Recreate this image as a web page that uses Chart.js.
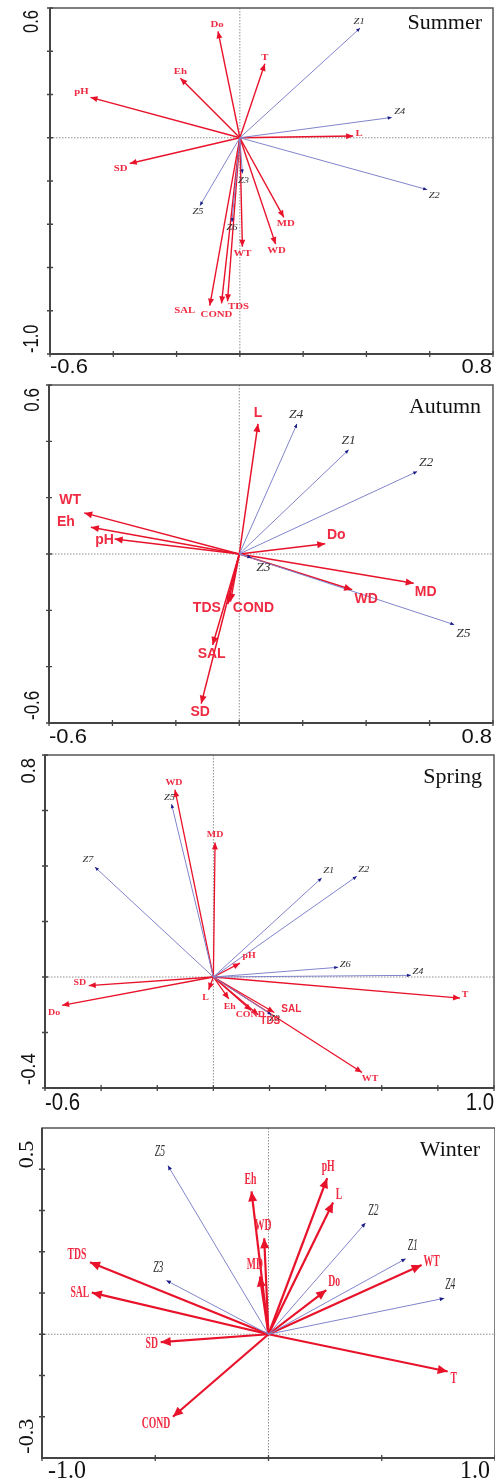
<!DOCTYPE html>
<html>
<head>
<meta charset="utf-8">
<script src="https://cdn.jsdelivr.net/npm/chart.js@4.4.1/dist/chart.umd.min.js"></script>
<style>
  html, body { margin: 0; padding: 0; background: #fff; }
  body { width: 495px; height: 1481px; position: relative; overflow: hidden; }
  .panel { position: absolute; left: 0; width: 495px; }
</style>
</head>
<body>
<div class="panel" style="top:0;height:376px"><canvas id="summer"></canvas></div>
<div class="panel" style="top:376px;height:370px"><canvas id="autumn"></canvas></div>
<div class="panel" style="top:746px;height:368px"><canvas id="spring"></canvas></div>
<div class="panel" style="top:1114px;height:367px"><canvas id="winter"></canvas></div>
<script>
// ---- Summer
const summerEnvNames  = ["Do", "T", "Eh", "pH", "SD", "L", "MD", "WD", "WT", "SAL", "COND", "TDS"];
const summerEnvX      = [-0.069, 0.079, -0.188, -0.472, -0.348, 0.358, 0.139, 0.113, 0.008, -0.095, -0.058, -0.039];
const summerEnvY      = [0.492, 0.342, 0.275, 0.187, -0.119, 0.008, -0.368, -0.492, -0.504, -0.776, -0.766, -0.756];
const summerZoneNames = ["Z1", "Z4", "Z2", "Z5", "Z3", "Z6"];
const summerZoneX     = [0.380, 0.480, 0.592, -0.126, 0.008, -0.025];
const summerZoneY     = [0.507, 0.094, -0.240, -0.314, -0.165, -0.390];
const summerXTicks    = [-0.6, -0.4, -0.2, 0, 0.2, 0.4, 0.6, 0.8];
const summerYTicks    = [-1.0, -0.8, -0.6, -0.4, -0.2, 0, 0.2, 0.4, 0.6];
const summerXLabels   = ["-0.6", "0.8"];
const summerYLabels   = ["-1.0", "0.6"];

// ---- Autumn
const autumnEnvNames  = ["L", "WT", "Eh", "pH", "Do", "MD", "WD", "TDS", "COND", "SAL", "SD"];
const autumnEnvX      = [0.059, -0.489, -0.468, -0.393, 0.271, 0.550, 0.356, -0.036, -0.028, -0.084, -0.120];
const autumnEnvY      = [0.462, 0.146, 0.095, 0.053, 0.036, -0.104, -0.127, -0.178, -0.169, -0.323, -0.531];
const autumnZoneNames = ["Z4", "Z1", "Z2", "Z5", "Z3"];
const autumnZoneX     = [0.182, 0.345, 0.561, 0.678, 0.038];
const autumnZoneY     = [0.462, 0.370, 0.293, -0.251, -0.013];
const autumnXTicks    = [-0.6, -0.4, -0.2, 0, 0.2, 0.4, 0.6, 0.8];
const autumnYTicks    = [-0.6, -0.4, -0.2, 0, 0.2, 0.4, 0.6];
const autumnXLabels   = ["-0.6", "0.8"];
const autumnYLabels   = ["-0.6", "0.6"];

// ---- Spring
const springEnvNames  = ["WD", "MD", "pH", "T", "SD", "Do", "L", "Eh", "COND", "TDS", "SAL", "WT"];
const springEnvX      = [-0.137, 0.006, 0.095, 0.879, -0.444, -0.539, -0.017, 0.055, 0.135, 0.160, 0.217, 0.530];
const springEnvY      = [0.675, 0.485, 0.050, -0.076, -0.031, -0.102, -0.046, -0.079, -0.121, -0.136, -0.128, -0.344];
const springZoneNames = ["Z5", "Z7", "Z1", "Z2", "Z6", "Z4", "Z3"];
const springZoneX     = [-0.149, -0.422, 0.386, 0.511, 0.445, 0.704, 0.207];
const springZoneY     = [0.623, 0.396, 0.357, 0.363, 0.035, 0.006, -0.136];
const springXTicks    = [-0.6, -0.4, -0.2, 0, 0.2, 0.4, 0.6, 0.8, 1.0];
const springYTicks    = [-0.4, -0.2, 0, 0.2, 0.4, 0.6, 0.8];
const springXLabels   = ["-0.6", "1.0"];
const springYLabels   = ["-0.4", "0.8"];

// ---- Winter
const winterEnvNames  = ["Eh", "pH", "L", "WD", "MD", "WT", "Do", "TDS", "SAL", "SD", "T", "COND"];
const winterEnvX      = [-0.075, 0.259, 0.285, -0.019, -0.038, 0.676, 0.255, -0.788, -0.780, -0.476, 0.791, -0.422];
const winterEnvY      = [0.433, 0.473, 0.399, 0.291, 0.175, 0.210, 0.134, 0.218, 0.126, -0.024, -0.113, -0.250];
const winterZoneNames = ["Z5", "Z2", "Z1", "Z4", "Z3"];
const winterZoneX     = [-0.444, 0.428, 0.606, 0.776, -0.451];
const winterZoneY     = [0.511, 0.337, 0.229, 0.109, 0.163];
const winterXTicks    = [-1.0, -0.5, 0, 0.5, 1.0];
const winterYTicks    = [-0.25, -0.125, 0, 0.125, 0.25, 0.375, 0.5];
const winterXLabels   = ["-1.0", "1.0"];
const winterYLabels   = ["-0.3", "0.5"];

const RED        = "#e8132b";
const RED_TEXT   = "#ee2b42";
const BLUE_LINE  = "#8184ca";
const BLUE_HEAD  = "#1a1d86";
const ZONE_TEXT  = "#333";
const SANS  = '"Liberation Sans", Arial, sans-serif';
const SERIF = '"Liberation Serif", "Times New Roman", serif';

const PANELS = [
  {
    id: "summer", title: "Summer", x: [-0.6, 0.8], y: [-1.0, 0.6],
    env: [summerEnvNames, summerEnvX, summerEnvY], zone: [summerZoneNames, summerZoneX, summerZoneY],
    xTicks: summerXTicks, yTicks: summerYTicks, xLabels: summerXLabels, yLabels: summerYLabels,
    style: {
      pad: { left: 50, top: 8, right: 2, bottom: 22 },
      redWidth: 1.4, headLen: 7, headHalf: 3, bHeadLen: 4, bHeadHalf: 1.7,
      envFont: `bold 8px ${SERIF}`, envSx: 1.35, sansNames: [], sansFont: "",
      zoneFont: `italic 8px ${SERIF}`, zoneSx: 1.3,
      title: { dx: -11, dy: 21 },
      xFont: `20px ${SANS}`, xDy: 19, xSx: 1.1, xSy: 1, xDx: [0, -1],
      yFont: `20px ${SANS}`, yDx: -12, ySx: 0.83, ySy: 1.1, yAlign: ["left", "right"], yDy: [-1, 2],
      offsets: {
        Do: [-1, -6], T: [0, -6], Eh: [0, -6], pH: [-9, -5], SD: [-9, 5], L: [6, -2],
        MD: [2, 7], WD: [1, 7], WT: [0, 7], SAL: [-25, 5], COND: [-5, 12], TDS: [11, 6],
        Z1: [-1, -6], Z4: [8, -6], Z2: [7, 6], Z5: [-2, 6], Z3: [1, 7], Z6: [0, 6],
      },
    },
  },
  {
    id: "autumn", title: "Autumn", x: [-0.6, 0.8], y: [-0.6, 0.6],
    env: [autumnEnvNames, autumnEnvX, autumnEnvY], zone: [autumnZoneNames, autumnZoneX, autumnZoneY],
    xTicks: autumnXTicks, yTicks: autumnYTicks, xLabels: autumnXLabels, yLabels: autumnYLabels,
    style: {
      pad: { left: 49, top: 9, right: 2, bottom: 23 },
      redWidth: 1.5, headLen: 8, headHalf: 3.5, bHeadLen: 4, bHeadHalf: 1.7,
      envFont: `bold 14px ${SANS}`, envSx: 1, sansNames: [], sansFont: "",
      zoneFont: `italic 13.5px ${SERIF}`, zoneSx: 1,
      title: { dx: -12, dy: 28 },
      xFont: `20px ${SANS}`, xDy: 20, xSx: 1.1, xSy: 1, xDx: [0, -1],
      yFont: `20px ${SANS}`, yDx: -10, ySx: 0.85, ySy: 1.1, yAlign: ["left", "right"], yDy: [-3, 3],
      offsets: {
        L: [0, -11], WT: [-14, -13], Eh: [-25, -5], pH: [-10, 1], Do: [11, -9], MD: [12, 9],
        WD: [14, 9], TDS: [-21, 4], COND: [23, 7], SAL: [-1, 9], SD: [-1, 9],
        Z4: [-1, -9], Z1: [0, -9], Z2: [9, -9], Z5: [9, 9], Z3: [12, 10],
      },
    },
  },
  {
    id: "spring", title: "Spring", x: [-0.6, 1.0], y: [-0.4, 0.8],
    env: [springEnvNames, springEnvX, springEnvY], zone: [springZoneNames, springZoneX, springZoneY],
    xTicks: springXTicks, yTicks: springYTicks, xLabels: springXLabels, yLabels: springYLabels,
    style: {
      pad: { left: 45, top: 9, right: 1, bottom: 26 },
      redWidth: 1.3, headLen: 7, headHalf: 3, bHeadLen: 4, bHeadHalf: 1.7,
      envFont: `bold 9px ${SERIF}`, envSx: 1.1, sansNames: ["SAL", "TDS"], sansFont: `bold 10px ${SANS}`,
      zoneFont: `italic 9px ${SERIF}`, zoneSx: 1.15,
      title: { dx: -12, dy: 28 },
      xFont: `20px ${SANS}`, xDy: 22, xSx: 1.02, xSy: 1.24, xDx: [0, 0],
      yFont: `20px ${SANS}`, yDx: -10, ySx: 0.92, ySy: 1.05, yAlign: ["left", "right"], yDy: [-3, 3],
      offsets: {
        WD: [-1, -7], MD: [0, -8], pH: [9, -7], T: [5, -3], SD: [-9, -3], Do: [-8, 7],
        L: [-3, 8], Eh: [1, 8], COND: [-1, 4], TDS: [12, 7], SAL: [17, -3], WT: [8, 6],
        Z5: [-2, -6], Z7: [-7, -7], Z1: [7, -7], Z2: [7, -7], Z6: [7, -3], Z4: [7, -4], Z3: [3, 4],
      },
    },
  },
  {
    id: "winter", title: "Winter", x: [-1.0, 1.0], y: [-0.375, 0.625],
    env: [winterEnvNames, winterEnvX, winterEnvY], zone: [winterZoneNames, winterZoneX, winterZoneY],
    xTicks: winterXTicks, yTicks: winterYTicks, xLabels: winterXLabels, yLabels: winterYLabels,
    style: {
      pad: { left: 42, top: 14, right: -2, bottom: 23 },
      redWidth: 2.2, headLen: 10, headHalf: 4.5, bHeadLen: 4.5, bHeadHalf: 2,
      envFont: `bold 17px ${SERIF}`, envSx: 0.57, sansNames: [], sansFont: "",
      zoneFont: `italic 16px ${SERIF}`, zoneSx: 0.6,
      title: { dx: -15, dy: 28 },
      xFont: `24px ${SERIF}`, xDy: 20, xSx: 1, xSy: 1.08, xDx: [6, -5],
      yFont: `22px ${SERIF}`, yDx: -9, ySx: 1, ySy: 1, yAlign: ["center", "left"], yDy: [3, -1],
      offsets: {
        Eh: [-1, -12], pH: [1, -12], L: [6, -8], WD: [-1, -13], MD: [-5, -12], WT: [10, -3],
        Do: [8, -8], TDS: [-13, -8], SAL: [-12, 0], SD: [-9, 1], T: [6, 7], COND: [-17, 7],
        Z5: [-8, -14], Z2: [8, -12], Z1: [7, -13], Z4: [6, -13], Z3: [-8, -13],
      },
    },
  },
];

function drawText(ctx, s, x, y, f) {
  ctx.save();
  ctx.translate(x, y);
  if (f.rot) ctx.rotate(f.rot);
  ctx.scale(f.sx || 1, f.sy || 1);
  ctx.font = f.font;
  ctx.fillStyle = f.color || "#000";
  ctx.textAlign = f.align || "center";
  ctx.textBaseline = f.base || "middle";
  ctx.fillText(s, 0, 0);
  ctx.restore();
}

function arrowHead(ctx, x0, y0, x1, y1, len, half, color) {
  const a = Math.atan2(y1 - y0, x1 - x0);
  ctx.save();
  ctx.translate(x1, y1);
  ctx.rotate(a);
  ctx.beginPath();
  ctx.moveTo(0, 0);
  ctx.lineTo(-len, -half);
  ctx.lineTo(-len, half);
  ctx.closePath();
  ctx.fillStyle = color;
  ctx.fill();
  ctx.restore();
}

function makeBiplot(p) {
  const st = p.style;
  return {
    id: "biplot_" + p.id,
    beforeDatasetsDraw(chart) {
      const { ctx, chartArea: a, scales: { x, y } } = chart;
      const x0 = x.getPixelForValue(0), y0 = y.getPixelForValue(0);
      ctx.save();
      ctx.strokeStyle = "#8e8e8e";
      ctx.lineWidth = 1;
      ctx.setLineDash([1.5, 1.5]);
      ctx.beginPath();
      ctx.moveTo(x0, a.top); ctx.lineTo(x0, a.bottom);
      ctx.moveTo(a.left, y0); ctx.lineTo(a.right, y0);
      ctx.stroke();
      ctx.restore();
    },
    afterDatasetsDraw(chart) {
      const { ctx, chartArea: a, scales: { x, y } } = chart;
      const ox = x.getPixelForValue(0), oy = y.getPixelForValue(0);

      // arrow heads
      const [zn, zx, zy] = p.zone;
      zn.forEach((n, i) => {
        arrowHead(ctx, ox, oy, x.getPixelForValue(zx[i]), y.getPixelForValue(zy[i]),
          st.bHeadLen, st.bHeadHalf, BLUE_HEAD);
      });
      const [en, ex, ey] = p.env;
      en.forEach((n, i) => {
        arrowHead(ctx, ox, oy, x.getPixelForValue(ex[i]), y.getPixelForValue(ey[i]),
          st.headLen, st.headHalf, RED);
      });

      // labels
      zn.forEach((n, i) => {
        const o = st.offsets[n] || [0, 0];
        drawText(ctx, n, x.getPixelForValue(zx[i]) + o[0], y.getPixelForValue(zy[i]) + o[1],
          { font: st.zoneFont, sx: st.zoneSx, color: ZONE_TEXT });
      });
      en.forEach((n, i) => {
        const o = st.offsets[n] || [0, 0];
        const sans = st.sansNames.includes(n);
        drawText(ctx, n, x.getPixelForValue(ex[i]) + o[0], y.getPixelForValue(ey[i]) + o[1],
          { font: sans ? st.sansFont : st.envFont, sx: sans ? 1 : st.envSx, color: RED_TEXT });
      });

      // frame
      ctx.save();
      ctx.strokeStyle = "#555";
      ctx.lineWidth = 1.5;
      ctx.strokeRect(a.left, a.top, a.right - a.left, a.bottom - a.top);
      ctx.strokeStyle = "#444";
      ctx.lineWidth = 2;
      ctx.beginPath();
      ctx.moveTo(a.left, a.top); ctx.lineTo(a.left, a.bottom); ctx.lineTo(a.right, a.bottom);
      ctx.stroke();

      // tick marks
      ctx.lineWidth = 1.3;
      ctx.beginPath();
      p.xTicks.forEach(v => {
        const px = x.getPixelForValue(v);
        ctx.moveTo(px, a.bottom - 3); ctx.lineTo(px, a.bottom + 3);
      });
      p.yTicks.forEach(v => {
        const py = y.getPixelForValue(v);
        ctx.moveTo(a.left - 3, py); ctx.lineTo(a.left + 3, py);
      });
      ctx.stroke();
      ctx.restore();

      // tick labels
      p.xLabels.forEach((t, i) => {
        drawText(ctx, t, x.getPixelForValue(parseFloat(t)) + st.xDx[i], a.bottom + st.xDy, {
          font: st.xFont, sx: st.xSx, sy: st.xSy, color: "#111",
          align: i === 0 ? "left" : "right", base: "alphabetic",
        });
      });
      p.yLabels.forEach((t, i) => {
        drawText(ctx, t, a.left + st.yDx, y.getPixelForValue(parseFloat(t)) + st.yDy[i], {
          font: st.yFont, sx: st.ySx, sy: st.ySy, color: "#111", rot: -Math.PI / 2,
          align: st.yAlign[i], base: "alphabetic",
        });
      });

      // panel title
      drawText(ctx, p.title, a.right + st.title.dx, a.top + st.title.dy, {
        font: `22px ${SERIF}`, color: "#111", align: "right", base: "alphabetic",
      });
    },
  };
}

function initPanel(p) {
  const st = p.style;
  const datasets = [];
  const [zn, zx, zy] = p.zone;
  zn.forEach((n, i) => {
    datasets.push({
      label: n, data: [{ x: 0, y: 0 }, { x: zx[i], y: zy[i] }],
      showLine: true, borderColor: BLUE_LINE, borderWidth: 1, pointRadius: 0,
    });
  });
  const [en, ex, ey] = p.env;
  en.forEach((n, i) => {
    datasets.push({
      label: n, data: [{ x: 0, y: 0 }, { x: ex[i], y: ey[i] }],
      showLine: true, borderColor: RED, borderWidth: st.redWidth, pointRadius: 0,
    });
  });

  new Chart(document.getElementById(p.id).getContext("2d"), {
    type: "scatter",
    data: { datasets },
    options: {
      responsive: true,
      maintainAspectRatio: false,
      animation: false,
      events: [],
      layout: { padding: st.pad },
      plugins: { legend: { display: false }, tooltip: { enabled: false } },
      scales: {
        x: { type: "linear", min: p.x[0], max: p.x[1], display: false },
        y: { type: "linear", min: p.y[0], max: p.y[1], display: false },
      },
    },
    plugins: [makeBiplot(p)],
  });
}

PANELS.forEach(initPanel);
</script>
</body>
</html>
